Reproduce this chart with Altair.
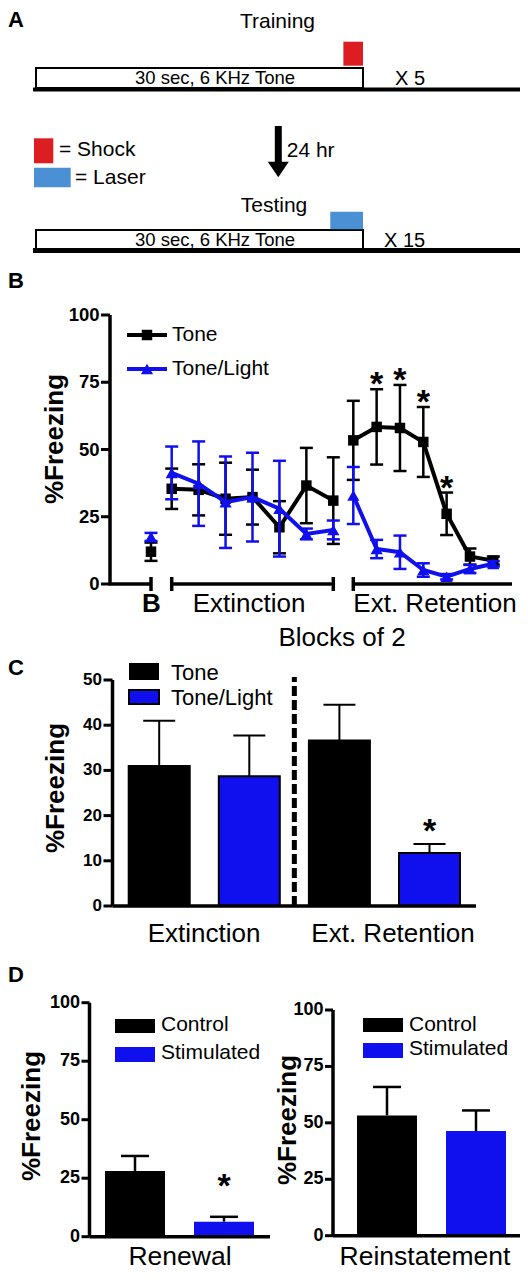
import altair as alt
import pandas as pd

FONT = "Liberation Sans"
BLACK = "#000000"
BLUE = "#1010ee"
RED = "#dc1e22"
LASER = "#4b8fd5"

# ---------------- data ----------------
# Panel A: protocol schematic (seconds within one trial)
stages = ["Training", "Testing"]
tone_start = [0, 0]
tone_end = [30, 30]
tone_text = ["30 sec, 6 KHz Tone", "30 sec, 6 KHz Tone"]
us_names = ["Shock", "Laser"]
us_start = [28.2, 27.0]
us_end = [30, 30]
repeat_text = ["X 5", "X 15"]
interval_text = "24 hr"

# Panel B: blocks of 2 trials (0 = baseline, 1-7 extinction, 8-14 ext. retention)
blocks = list(range(15))
segments = ["B"] + ["Extinction"] * 7 + ["Ext. Retention"] * 7
tone_mean = [12.0, 35.4, 35.0, 31.7, 32.3, 21.1, 36.6, 31.0, 53.4, 58.4, 58.0, 52.8, 26.1, 10.2, 8.7]
tone_sem = [3.4, 7.5, 9.5, 13.4, 10.2, 9.7, 14.0, 16.1, 14.7, 14.0, 16.0, 13.0, 7.9, 3.0, 1.5]
tone_sig = ["", "", "", "", "", "", "", "", "", "*", "*", "*", "*", "", ""]
light_mean = [17.5, 41.3, 37.3, 30.4, 32.3, 28.0, 18.6, 20.1, 32.9, 13.0, 11.8, 5.2, 2.7, 5.6, 7.5]
light_sem = [1.5, 9.8, 15.7, 17.0, 16.5, 17.8, 2.0, 3.5, 10.6, 3.4, 6.2, 2.5, 1.0, 1.5, 1.0]
b_groups = ["Tone", "Tone/Light"]

# Panel C
c_phase = ["Extinction", "Extinction", "Ext. Retention", "Ext. Retention"]
c_group = ["Tone", "Tone/Light", "Tone", "Tone/Light"]
c_mean = [31.0, 28.7, 36.6, 11.7]
c_sem = [10.0, 9.0, 7.9, 2.0]
c_sig = ["", "", "", "*"]

# Panel D
d_test = ["Renewal", "Renewal", "Reinstatement", "Reinstatement"]
d_group = ["Control", "Stimulated", "Control", "Stimulated"]
d_mean = [28.1, 6.4, 53.3, 46.4]
d_sem = [6.4, 2.1, 12.6, 9.1]
d_sig = ["", "*", "", ""]

b_ticks = [0, 25, 50, 75, 100]
c_ticks = [0, 10, 20, 30, 40, 50]
d_ticks = [0, 25, 50, 75, 100]

# ---------------- helpers ----------------
ONE = alt.Data(values=[{"k": 0}])


def sc(domain, rng):
    return alt.Scale(domain=domain, range=rng, nice=False, zero=False)


def label(text, x, y, size, weight="normal", align="left", baseline="alphabetic", angle=None, color=BLACK):
    kw = dict(text=text, font=FONT, fontSize=size, fontWeight=weight, align=align,
              baseline=baseline, color=color)
    if angle is not None:
        kw["angle"] = angle
    return alt.Chart(ONE).mark_text(**kw).encode(x=alt.value(x), y=alt.value(y))


def box(x1, x2, y1, y2, fill, stroke=None, sw=0):
    kw = dict(fill=fill)
    if stroke:
        kw.update(stroke=stroke, strokeWidth=sw)
    return alt.Chart(ONE).mark_rect(**kw).encode(
        x=alt.value(x1), x2=alt.value(x2), y=alt.value(y1), y2=alt.value(y2))


def y_axis(ticks, ys, x_line, tick_len, size):
    df = pd.DataFrame({"v": ticks})
    line = alt.Chart(ONE).mark_rule(color=BLACK, strokeWidth=3.5).encode(
        x=alt.value(x_line),
        y=alt.YDatum(min(ticks), scale=ys, axis=None),
        y2=alt.Y2Datum(max(ticks)))
    tk = alt.Chart(df).mark_rule(color=BLACK, strokeWidth=3).encode(
        x=alt.value(x_line - tick_len), x2=alt.value(x_line),
        y=alt.Y("v:Q", scale=ys, axis=None))
    lab = alt.Chart(df).mark_text(font=FONT, fontSize=size, fontWeight="bold",
                                  align="right", baseline="middle").encode(
        x=alt.value(x_line - tick_len - 1.5),
        y=alt.Y("v:Q", scale=ys, axis=None),
        text=alt.Text("v:Q", format="d"))
    return [line, tk, lab]


layers = []

# ---------------- Panel A ----------------
dfA = pd.DataFrame({"stage": stages, "tone_start": tone_start, "tone_end": tone_end,
                    "us": us_names, "us_start": us_start, "us_end": us_end})
xA = sc([0, 30], [28, 355])
rowA = {"Training": dict(box=(60, 80), us=(33.7, 57.7), base=81.5, bw=4),
        "Testing": dict(box=(222, 241), us=(203.7, 221.3), base=242.5, bw=5)}
for st in stages:
    r = rowA[st]
    d = alt.Chart(dfA).transform_filter(alt.datum.stage == st)
    layers.append(alt.Chart(ONE).mark_rule(color=BLACK, strokeWidth=r["bw"]).encode(
        x=alt.value(25), x2=alt.value(512), y=alt.value(r["base"])))
    layers.append(d.mark_rect(fill="white", stroke=BLACK, strokeWidth=2).encode(
        x=alt.X("tone_start:Q", scale=xA, axis=None), x2="tone_end:Q",
        y=alt.value(r["box"][0]), y2=alt.value(r["box"][1])))
    layers.append(d.mark_rect().encode(
        x=alt.X("us_start:Q", scale=xA, axis=None), x2="us_end:Q",
        y=alt.value(r["us"][0]), y2=alt.value(r["us"][1]),
        fill=alt.Fill("us:N", scale=alt.Scale(domain=us_names, range=[RED, LASER]), legend=None)))

layers += [
    label("A", 0, 19, 22, "bold"),
    label(stages[0], 269.5, 20, 21, align="center"),
    label(tone_text[0], 207, 76, 18.5, align="center"),
    label(repeat_text[0], 387, 77, 20),
    label(stages[1], 266, 204, 21, align="center"),
    label(tone_text[1], 207, 238, 18.5, align="center"),
    label(repeat_text[1], 376, 239, 20),
    box(26, 45.3, 130.3, 155.3, RED),
    label("= " + us_names[0], 51, 147.7, 21),
    box(26, 62.7, 159.7, 179.3, LASER),
    label("= " + us_names[1], 67, 176.3, 21),
    alt.Chart(ONE).mark_rule(color=BLACK, strokeWidth=7).encode(
        x=alt.value(270.3), y=alt.value(118), y2=alt.value(156)),
    alt.Chart(ONE).mark_point(shape="M-1,-0.75L1,-0.75L0,0.75Z", filled=True, size=440,
                              color=BLACK, opacity=1).encode(
        x=alt.value(270.3), y=alt.value(161.5)),
    label(interval_text, 278.7, 148.7, 21),
]

# ---------------- Panel B ----------------
dfB = pd.DataFrame({
    "block": blocks * 2,
    "segment": segments * 2,
    "group": [b_groups[0]] * 15 + [b_groups[1]] * 15,
    "mean": tone_mean + light_mean,
    "sem": tone_sem + light_sem,
    "sig": tone_sig + [""] * 15,
})
dfB["lo"] = dfB["mean"] - dfB["sem"]
dfB["hi"] = dfB["mean"] + dfB["sem"]

xB = sc([0, 1, 7, 8, 14], [143, 163.7, 325.3, 345.3, 485.3])
yB = sc([0, 100], [576, 307])
XB = alt.X("block:Q", scale=xB, axis=None)


def series_b(group, color, shape, size):
    d = alt.Chart(dfB).transform_filter(alt.datum.group == group)
    return [
        d.mark_rule(color=color, strokeWidth=2.5).encode(
            x=XB, y=alt.Y("lo:Q", scale=yB, axis=None), y2="hi:Q"),
        d.mark_rule(color=color, strokeWidth=2.5, xOffset=-6.5, x2Offset=6.5).encode(
            x=XB, x2="block:Q", y=alt.Y("hi:Q", scale=yB, axis=None)),
        d.mark_rule(color=color, strokeWidth=2.5, xOffset=-6.5, x2Offset=6.5).encode(
            x=XB, x2="block:Q", y=alt.Y("lo:Q", scale=yB, axis=None)),
        d.mark_line(color=color, strokeWidth=4).encode(
            x=XB, y=alt.Y("mean:Q", scale=yB, axis=None), detail="segment:N"),
        d.mark_point(shape=shape, filled=True, size=size, color=color, opacity=1).encode(
            x=XB, y=alt.Y("mean:Q", scale=yB, axis=None)),
    ]


layers += series_b(b_groups[0], BLACK, "square", 110)
layers += series_b(b_groups[1], BLUE, "triangle-up", 150)
layers.append(alt.Chart(dfB).transform_filter(alt.datum.sig == "*").mark_text(
    font=FONT, fontSize=34, fontWeight="bold", align="center", baseline="middle", dy=-4).encode(
    x=XB, y=alt.Y("hi:Q", scale=yB, axis=None), text="sig:N"))

layers += y_axis(b_ticks, yB, 102, 9, 18.5)
# broken x axis of panel B
dfSeg = pd.DataFrame({"segment": ["B", "Extinction", "Ext. Retention"],
                      "first": [0, 1, 8], "last": [0, 7, 14]})
dfEnds = pd.DataFrame({"block": [0, 1, 7, 8]})
layers += [
    alt.Chart(dfSeg).transform_filter(alt.datum.segment == "B").mark_rule(
        color=BLACK, strokeWidth=3.5).encode(
        x=alt.X("first:Q", scale=xB, axis=None), x2=alt.value(100.5), y=alt.value(576)),
    alt.Chart(dfSeg).transform_filter(alt.datum.segment == "Extinction").mark_rule(
        color=BLACK, strokeWidth=3.5).encode(
        x=alt.X("first:Q", scale=xB, axis=None), x2="last:Q", y=alt.value(576)),
    alt.Chart(dfSeg).transform_filter(alt.datum.segment == "Ext. Retention").mark_rule(
        color=BLACK, strokeWidth=3.5).encode(
        x=alt.X("first:Q", scale=xB, axis=None), x2=alt.value(504), y=alt.value(576)),
    alt.Chart(dfEnds).mark_rule(color=BLACK, strokeWidth=3.5).encode(
        x=XB, y=alt.value(569), y2=alt.value(583)),
    label("B", 0, 280, 22, "bold"),
    label("%Freezing", 47, 431, 26, "bold", align="center", baseline="middle", angle=270),
    label("B", 143.5, 604, 26, "bold", align="center"),
    label("Extinction", 241, 604, 26, align="center"),
    label("Ext. Retention", 427, 604, 26, align="center"),
    label("Blocks of 2", 334, 638, 26, align="center"),
    # legend B
    alt.Chart(ONE).mark_rule(color=BLACK, strokeWidth=4).encode(
        x=alt.value(119), x2=alt.value(159), y=alt.value(327)),
    alt.Chart(ONE).mark_point(shape="square", filled=True, size=110, color=BLACK, opacity=1).encode(
        x=alt.value(139), y=alt.value(327)),
    label(b_groups[0], 164, 327, 21, baseline="middle"),
    alt.Chart(ONE).mark_rule(color=BLUE, strokeWidth=4).encode(
        x=alt.value(119), x2=alt.value(159), y=alt.value(361)),
    alt.Chart(ONE).mark_point(shape="triangle-up", filled=True, size=150, color=BLUE, opacity=1).encode(
        x=alt.value(139), y=alt.value(361)),
    label(b_groups[1], 164, 361, 21, baseline="middle"),
]

# ---------------- Panel C ----------------
dfC = pd.DataFrame({"slot": [1, 2, 3, 4], "phase": c_phase, "group": c_group,
                    "mean": c_mean, "sem": c_sem, "sig": c_sig})
dfC["hi"] = dfC["mean"] + dfC["sem"]
xC = sc([1, 4], [151.2, 421.5])
yC = sc([0, 50], [898, 672])
XC = alt.X("slot:Q", scale=xC, axis=None)
cC = alt.Chart(dfC)
layers += [
    cC.mark_rule(color=BLACK, strokeWidth=2).encode(
        x=XC, y=alt.Y("mean:Q", scale=yC, axis=None), y2="hi:Q"),
    cC.mark_rule(color=BLACK, strokeWidth=2, xOffset=-16, x2Offset=16).encode(
        x=XC, x2="slot:Q", y=alt.Y("hi:Q", scale=yC, axis=None)),
    cC.mark_rect(stroke=BLACK, strokeWidth=2, xOffset=-30.5, x2Offset=30.5).encode(
        x=XC, x2="slot:Q", y=alt.Y("mean:Q", scale=yC, axis=None), y2=alt.Y2Datum(0),
        fill=alt.Fill("group:N", scale=alt.Scale(domain=b_groups, range=[BLACK, BLUE]), legend=None)),
    cC.transform_filter(alt.datum.sig == "*").mark_text(
        font=FONT, fontSize=34, fontWeight="bold", align="center", baseline="middle", dy=-12).encode(
        x=XC, y=alt.Y("hi:Q", scale=yC, axis=None), text="sig:N"),
    alt.Chart(ONE).mark_rule(color=BLACK, strokeWidth=5, strokeDash=[10, 4]).encode(
        x=alt.XDatum(2.5, scale=xC, axis=None),
        y=alt.YDatum(0, scale=yC, axis=None), y2=alt.value(669)),
    alt.Chart(ONE).mark_rule(color=BLACK, strokeWidth=3.5).encode(
        x=alt.value(104.5), x2=alt.value(468), y=alt.YDatum(0, scale=yC, axis=None)),
]
layers += y_axis(c_ticks, yC, 104.5, 9, 17)
layers += [
    label("C", 0, 667, 22, "bold"),
    label("%Freezing", 48, 780, 26, "bold", align="center", baseline="middle", angle=270),
    label(c_phase[0], 196, 934, 26, align="center"),
    label(c_phase[2], 385, 934, 26, align="center"),
    box(121, 151, 655, 672, BLACK),
    label(b_groups[0], 163, 665, 22, baseline="middle"),
    box(121, 151, 682, 696, BLUE, BLACK, 2),
    label(b_groups[1], 163, 690, 22, baseline="middle"),
]

# ---------------- Panel D ----------------
dfD = pd.DataFrame({"test": d_test, "group": d_group, "slot": [1, 2, 1, 2],
                    "mean": d_mean, "sem": d_sem, "sig": d_sig})
dfD["hi"] = dfD["mean"] + dfD["sem"]
d_groups = ["Control", "Stimulated"]
panelsD = [
    dict(test="Renewal", xs=sc([1, 2], [127, 216]), ys=sc([0, 100], [1228.7, 994.7]),
         axis_x=81.5, x_end=262, leg_x=107, leg_y=(1011, 1039), txt_y=(1017, 1045),
         title_x=24, title_y=1108, cat_x=172),
    dict(test="Reinstatement", xs=sc([1, 2], [379, 468]), ys=sc([0, 100], [1227.7, 1002]),
         axis_x=325, x_end=512, leg_x=355, leg_y=(1010, 1035), txt_y=(1017, 1041),
         title_x=280, title_y=1112, cat_x=417),
]
for p in panelsD:
    d = alt.Chart(dfD).transform_filter(alt.datum.test == p["test"])
    X = alt.X("slot:Q", scale=p["xs"], axis=None)
    ys = p["ys"]
    layers += [
        d.mark_rule(color=BLACK, strokeWidth=2.5).encode(
            x=X, y=alt.Y("mean:Q", scale=ys, axis=None), y2="hi:Q"),
        d.mark_rule(color=BLACK, strokeWidth=2.5, xOffset=-14, x2Offset=14).encode(
            x=X, x2="slot:Q", y=alt.Y("hi:Q", scale=ys, axis=None)),
        d.mark_rect(xOffset=-30, x2Offset=30).encode(
            x=X, x2="slot:Q", y=alt.Y("mean:Q", scale=ys, axis=None), y2=alt.Y2Datum(0),
            fill=alt.Fill("group:N", scale=alt.Scale(domain=d_groups, range=[BLACK, BLUE]), legend=None)),
        d.transform_filter(alt.datum.sig == "*").mark_text(
            font=FONT, fontSize=34, fontWeight="bold", align="center", baseline="middle", dy=-30).encode(
            x=X, y=alt.Y("hi:Q", scale=ys, axis=None), text="sig:N"),
        alt.Chart(ONE).mark_rule(color=BLACK, strokeWidth=3.5).encode(
            x=alt.value(p["axis_x"]), x2=alt.value(p["x_end"]),
            y=alt.YDatum(0, scale=ys, axis=None)),
    ]
    layers += y_axis(d_ticks, ys, p["axis_x"], 8, 18)
    lx = p["leg_x"]
    layers += [
        box(lx, lx + 40, p["leg_y"][0], p["leg_y"][0] + 14, BLACK),
        box(lx, lx + 40, p["leg_y"][1], p["leg_y"][1] + 15, BLUE),
        label(d_groups[0], lx + 46, p["txt_y"][0], 21, baseline="middle"),
        label(d_groups[1], lx + 46, p["txt_y"][1], 21, baseline="middle"),
        label("%Freezing", p["title_x"], p["title_y"], 26, "bold", align="center",
              baseline="middle", angle=270),
        label(p["test"], p["cat_x"], 1257, 26.5, align="center"),
    ]
layers.append(label("D", 0, 974, 22, "bold"))

chart = alt.layer(*layers).properties(
    width=512, height=1264, padding=0,
    autosize=alt.AutoSizeParams(type="none"),
    background="white",
).resolve_scale(x="independent", y="independent", fill="independent").configure_view(stroke=None)

chart.save("out.html", embed_options={"renderer": "svg", "actions": False})
